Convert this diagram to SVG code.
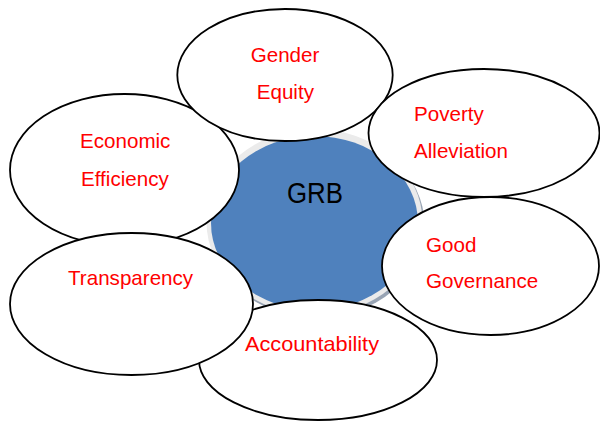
<svg xmlns="http://www.w3.org/2000/svg" width="600" height="422" viewBox="0 0 600 422">
  <style>
    .node { fill: #ffffff; stroke: #000000; stroke-width: 1.8; }
    .lbl { font-family: "Liberation Sans", Arial, sans-serif; font-size: 20.6px; fill: #ff0000; }
    .core { font-family: "Liberation Sans", Arial, sans-serif; font-size: 29px; fill: #000000; }
  </style>
  <rect width="600" height="422" fill="#ffffff"/>
  <g id="grb">
    <ellipse cx="316.5" cy="225" rx="108" ry="93" fill="#98a4b4"/>
    <ellipse cx="314.5" cy="222" rx="108" ry="93" fill="#ebebeb"/>
    <ellipse cx="314.5" cy="223" rx="103.5" ry="87" fill="#4f81bd"/>
    <text class="core" x="315" y="203" text-anchor="middle" textLength="56" lengthAdjust="spacingAndGlyphs">GRB</text>
  </g>
  <g id="connectors"></g>
  <g id="accountability">
    <ellipse class="node" cx="318" cy="360" rx="119" ry="60"/>
    <text class="lbl" x="245" y="350.5" textLength="134" lengthAdjust="spacingAndGlyphs">Accountability</text>
  </g>
  <g id="economic-efficiency">
    <ellipse class="node" cx="124.5" cy="170" rx="114.5" ry="76"/>
    <text class="lbl" x="80" y="148">Economic</text>
    <text class="lbl" x="81" y="186">Efficiency</text>
  </g>
  <g id="transparency">
    <ellipse class="node" cx="131.5" cy="304" rx="121.5" ry="71"/>
    <text class="lbl" x="68" y="285">Transparency</text>
  </g>
  <g id="gender-equity">
    <ellipse class="node" cx="285" cy="75" rx="107.7" ry="66"/>
    <text class="lbl" x="250.7" y="61.7">Gender</text>
    <text class="lbl" x="256.7" y="99">Equity</text>
  </g>
  <g id="poverty-alleviation">
    <ellipse class="node" cx="484" cy="133" rx="115.5" ry="64"/>
    <text class="lbl" x="414" y="120.5">Poverty</text>
    <text class="lbl" x="414" y="158.3">Alleviation</text>
  </g>
  <g id="good-governance">
    <ellipse class="node" cx="490.5" cy="266" rx="108.5" ry="69"/>
    <text class="lbl" x="426" y="251.5">Good</text>
    <text class="lbl" x="426" y="288">Governance</text>
  </g>
</svg>
